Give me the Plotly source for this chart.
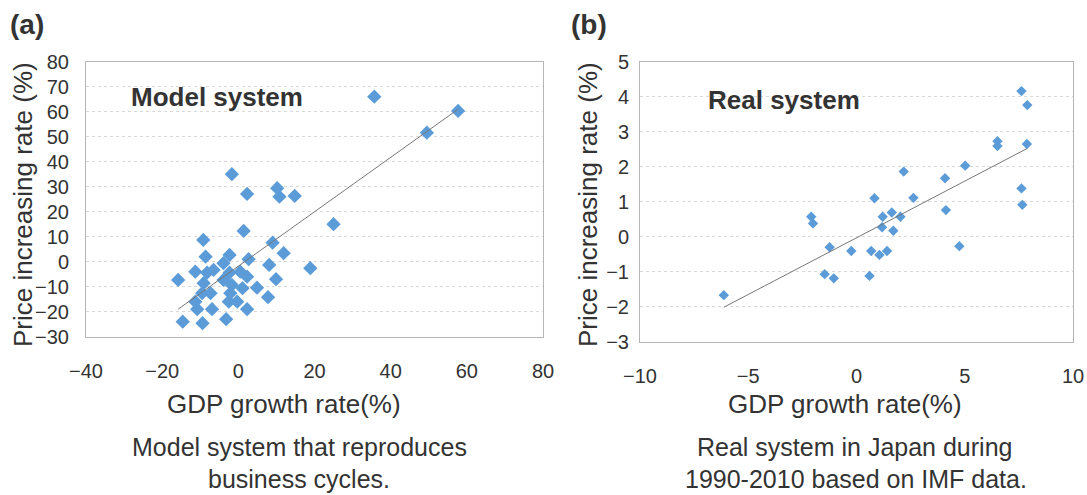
import numpy as np
import plotly.graph_objects as go

# (a) Model system: GDP growth rate vs price increasing rate (%)
model_gdp = [-1.7, 2.3, 10.2, 10.8, 14.8, 1.4, 9.0, -9.2, 11.9, 18.9,
             8.1, 2.7, 9.9, 7.8, 4.9, 2.3, 1.1, 2.3, -3.2, -9.4,
             -14.6, -15.8, -8.6, -11.3, 35.7, 57.7, 49.5, 25.0, -2.3, -3.9,
             -8.2, -6.5, -2.3, -3.9, -9.1, -7.3, -9.5, -2.1, -0.3, -2.5,
             -10.8, -6.9, -11.3, 0.5, -1.7]
model_price = [35.0, 27.1, 29.4, 26.0, 26.3, 12.3, 7.6, 8.7, 3.4, -2.6,
               -1.3, 1.0, -7.0, -14.2, -10.4, -6.0, -10.6, -19.0, -23.0, -24.6,
               -24.0, -7.3, 2.0, -4.0, 66.0, 60.3, 51.6, 15.0, 2.7, -0.6,
               -4.4, -3.3, -4.4, -7.3, -8.6, -12.6, -12.6, -12.6, -16.0, -16.0,
               -19.0, -19.0, -16.0, -4.0, -9.3]

# (b) Real system: Japan 1990-2010 (IMF)
real_gdp = [-6.13, -2.09, -2.01, -1.24, -1.47, -1.05, -0.24, 0.68, 1.06, 1.41,
            0.60, 0.83, 1.21, 1.63, 2.03, 1.18, 1.70, 2.18, 2.63, 4.09,
            4.13, 5.02, 4.75, 6.51, 6.51, 7.62, 7.89, 7.87, 7.62, 7.66]
real_price = [-1.67, 0.57, 0.38, -0.30, -1.07, -1.19, -0.41, -0.41, -0.52, -0.41,
              -1.12, 1.10, 0.57, 0.69, 0.57, 0.27, 0.17, 1.86, 1.11, 1.67,
              0.76, 2.03, -0.27, 2.73, 2.59, 4.16, 3.76, 2.65, 1.38, 0.91]

W, H = 1087, 495
FONT = "Liberation Sans, Arial, sans-serif"
TXT = "#333333"
MARK = "#5b9bd8"


def px(x):
    return x / W


def py(y):
    return 1 - y / H


def trend(xs, ys):
    k, b = np.polyfit(xs, ys, 1)
    xl = np.array([min(xs), max(xs)])
    return xl, k * xl + b


fig = go.Figure()

fig.add_trace(go.Scatter(x=model_gdp, y=model_price, mode="markers",
                         marker=dict(symbol="diamond", size=11, color=MARK),
                         xaxis="x", yaxis="y", showlegend=False))
tx, ty = trend(model_gdp, model_price)
fig.add_trace(go.Scatter(x=tx, y=ty, mode="lines", line=dict(color="#777777", width=1),
                         xaxis="x", yaxis="y", showlegend=False))

fig.add_trace(go.Scatter(x=real_gdp, y=real_price, mode="markers",
                         marker=dict(symbol="diamond", size=8, color=MARK),
                         xaxis="x2", yaxis="y2", showlegend=False))
tx, ty = trend(real_gdp, real_price)
fig.add_trace(go.Scatter(x=tx, y=ty, mode="lines", line=dict(color="#777777", width=1),
                         xaxis="x2", yaxis="y2", showlegend=False))

axis_common = dict(showline=True, mirror=True, linecolor="#b5b5b5", linewidth=1,
                   zeroline=False, automargin=False,
                   tickfont=dict(family=FONT, size=20, color=TXT),
                   ticks="outside", tickcolor="rgba(0,0,0,0)")

fig.update_layout(
    width=W, height=H, margin=dict(l=0, r=0, t=0, b=0, autoexpand=False),
    paper_bgcolor="white", plot_bgcolor="white",
    xaxis=dict(domain=[px(86), px(543)], range=[-40, 80], dtick=20, showgrid=False,
               ticklen=16, anchor="y", **axis_common),
    yaxis=dict(domain=[py(336.7), py(61.7)], range=[-30, 80], dtick=10, showgrid=True,
               gridcolor="#d9d9d9", griddash="dot", ticklen=12, anchor="x", **axis_common),
    xaxis2=dict(domain=[px(640), px(1073)], range=[-10, 10], dtick=5, showgrid=False,
                ticklen=16, anchor="y2", **axis_common),
    yaxis2=dict(domain=[py(341.7), py(61.7)], range=[-3, 5], dtick=1, showgrid=True,
                gridcolor="#d9d9d9", griddash="dot", ticklen=6, anchor="x2", **axis_common),
)


def note(text, x, y, size, bold=False, angle=0):
    fig.add_annotation(text=f"<b>{text}</b>" if bold else text,
                       x=px(x), y=py(y), xref="paper", yref="paper",
                       xanchor="center", yanchor="middle", showarrow=False,
                       textangle=angle, font=dict(family=FONT, size=size, color=TXT))


note("(a)", 27, 25, 28, bold=True)
note("(b)", 589, 25, 28, bold=True)
note("Model system", 217, 97, 26, bold=True)
note("Real system", 784, 100, 26, bold=True)
note("Price increasing rate (%)", 23, 205, 26, angle=-90)
note("Price increasing rate (%)", 588, 205, 26, angle=-90)
note("GDP growth rate(%)", 284, 404, 26)
note("GDP growth rate(%)", 845, 404, 26)
note("Model system that reproduces", 299, 447, 25)
note("business cycles.", 299, 479, 25)
note("Real system in Japan during", 854, 447, 25)
note("1990-2010 based on IMF data.", 856, 479, 25)

fig.write_html("out.html")
